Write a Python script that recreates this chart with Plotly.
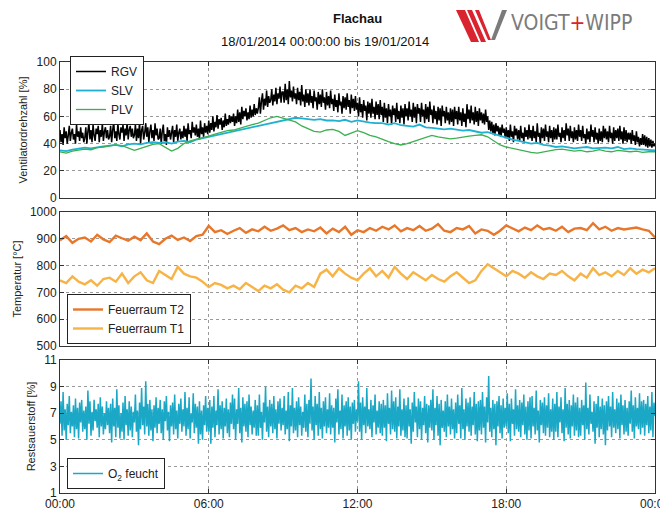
import pandas as pd
import plotly.graph_objects as go

# ---------------- data ----------------
day_start = "2014-01-18 00:00"
day_end = "2014-01-19 00:00"
x_tick_labels = ["00:00", "06:00", "12:00", "18:00", "00:00"]

# Ventilatordrehzahl RGV [%], 2.5-minute samples (one row per hour)
rgv = [
    50, 41, 47, 39, 52, 44, 49, 40, 46, 53, 42, 48, 51, 43, 47, 40, 54, 45, 49, 42, 52, 44, 48, 41,
    44, 52, 40, 49, 55, 43, 50, 41, 54, 46, 42, 51, 47, 53, 41, 50, 45, 55, 42, 49, 52, 44, 50, 43,
    45, 53, 41, 50, 56, 44, 49, 42, 55, 47, 43, 52, 48, 54, 42, 51, 46, 56, 43, 50, 53, 45, 51, 44,
    46, 54, 42, 51, 44, 56, 40, 50, 53, 43, 48, 55, 45, 52, 41, 49, 54, 44, 50, 42, 55, 46, 51, 43,
    44, 51, 40, 49, 54, 42, 47, 39, 52, 45, 50, 43, 48, 53, 41, 50, 45, 54, 42, 48, 51, 43, 49, 44,
    53, 45, 51, 42, 55, 47, 50, 44, 56, 48, 52, 46, 54, 45, 51, 43, 57, 47, 52, 45, 55, 48, 53, 47,
    57, 48, 55, 50, 60, 49, 56, 52, 61, 51, 58, 54, 59, 50, 57, 52, 62, 53, 58, 54, 61, 55, 60, 56,
    62, 53, 60, 55, 65, 56, 63, 54, 67, 58, 64, 60, 66, 57, 63, 58, 68, 59, 65, 60, 69, 61, 66, 62,
    66, 74, 62, 71, 77, 65, 73, 68, 79, 67, 75, 70, 72, 80, 68, 76, 71, 81, 69, 77, 73, 82, 70, 78,
    78, 70, 84, 72, 80, 69, 86, 74, 79, 71, 82, 73, 77, 69, 81, 72, 78, 68, 83, 71, 76, 67, 80, 70,
    77, 68, 80, 70, 75, 66, 79, 71, 74, 65, 78, 69, 76, 67, 80, 70, 74, 65, 78, 68, 75, 66, 79, 69,
    73, 64, 76, 67, 72, 63, 77, 68, 71, 62, 75, 66, 74, 65, 77, 67, 72, 62, 76, 66, 73, 64, 75, 65,
    70, 60, 74, 63, 69, 59, 72, 64, 68, 57, 71, 62, 70, 59, 73, 62, 67, 58, 71, 61, 69, 58, 72, 61,
    67, 56, 70, 59, 66, 55, 69, 60, 65, 54, 68, 61, 66, 56, 70, 58, 64, 55, 68, 59, 66, 54, 69, 60,
    66, 57, 71, 60, 65, 56, 70, 59, 67, 55, 69, 62, 66, 56, 70, 60, 65, 55, 69, 58, 67, 56, 71, 61,
    65, 55, 68, 58, 64, 54, 67, 57, 66, 53, 68, 60, 64, 55, 67, 57, 63, 54, 66, 56, 65, 53, 67, 58,
    64, 54, 67, 57, 63, 53, 66, 56, 62, 52, 69, 58, 65, 55, 68, 57, 63, 54, 67, 56, 64, 53, 66, 57,
    63, 55, 62, 54, 65, 56, 60, 50, 57, 49, 56, 47, 54, 46, 55, 49, 53, 46, 52, 45, 54, 48, 51, 44,
    52, 44, 50, 42, 54, 45, 49, 41, 53, 46, 51, 43, 50, 42, 53, 44, 48, 41, 52, 45, 50, 43, 54, 44,
    50, 42, 53, 44, 49, 41, 55, 45, 48, 40, 52, 44, 51, 42, 54, 45, 49, 41, 53, 44, 50, 41, 52, 43,
    51, 43, 54, 45, 48, 41, 52, 44, 50, 42, 55, 46, 51, 42, 53, 44, 49, 41, 52, 43, 50, 42, 54, 45,
    50, 42, 53, 44, 47, 40, 51, 43, 49, 41, 54, 45, 50, 41, 52, 43, 48, 40, 51, 42, 49, 41, 53, 44,
    51, 43, 49, 41, 53, 44, 48, 40, 52, 42, 50, 44, 51, 42, 53, 43, 49, 40, 52, 42, 50, 41, 48, 43,
    48, 40, 50, 42, 46, 39, 49, 41, 45, 38, 44, 39, 47, 39, 46, 38, 45, 37, 44, 38, 43, 37, 42, 38,
    40,
]

# SLV [%], 15-minute samples
slv = [
    35, 34.5, 35.5, 36, 37, 36.5, 37.5, 38, 38.5, 39, 38, 39.5,
    40, 39.5, 40.5, 41, 40.5, 41, 40, 41.5, 42, 41, 43, 44,
    45, 46, 47, 48, 49, 50, 51.5, 52, 53, 54, 55, 56,
    57, 58, 59, 58.5, 58, 57.5, 58, 57, 57, 56.5, 57.5, 56,
    57, 56, 55.5, 55, 55, 54, 55, 53.5, 53, 52.5, 54, 52,
    51.5, 51, 50.5, 51, 50, 49.5, 50, 49, 48, 48.5, 47, 45.5,
    44, 43, 42, 41, 40, 40.5, 39, 38.5, 37.5, 38, 37, 36.5,
    37, 37.5, 36.5, 37, 37, 36.5, 37.5, 36, 36.5, 36, 35.5, 35.5,
    35,
]

# PLV [%], 15-minute samples
plv = [
    34, 33, 34.5, 35, 36, 35.5, 37, 37.5, 38, 39, 38.5, 37,
    35, 36.5, 38, 39.5, 40, 37, 34.5, 36.5, 40, 42, 43, 44,
    45.5, 47, 48.5, 49.5, 50, 51.5, 53, 54, 55, 57, 59, 60,
    58.5, 57.5, 56, 53, 51, 49, 48.5, 50, 50.5, 49, 46, 47.5,
    49.5, 48, 46, 45, 43, 41.5, 40, 39, 40, 41.5, 43, 44.5,
    46, 45, 44, 43.5, 44, 45, 45.5, 46, 46.5, 45, 42, 39,
    37.5, 36.5, 35, 34.5, 33.5, 33, 34, 35, 35.5, 36, 35, 34.5,
    35, 34, 34.5, 35.5, 34.5, 34, 35, 34.5, 34, 34.5, 33.5, 34,
    34,
]

# Feuerraum T2 [°C], 15-minute samples
t2 = [
    895, 910, 885, 900, 905, 890, 915, 898, 888, 912, 902, 893,
    908, 895, 920, 890, 880, 900, 912, 896, 905, 892, 910, 915,
    948, 925, 932, 918, 930, 940, 922, 935, 928, 945, 930, 938,
    950, 932, 940, 925, 935, 928, 942, 920, 938, 925, 945, 915,
    932, 925, 940, 930, 945, 935, 950, 928, 940, 932, 948, 930,
    938, 955, 930, 925, 940, 935, 948, 920, 935, 930, 915, 930,
    950, 938, 928, 942, 932, 950, 935, 940, 930, 945, 925, 938,
    940, 932, 958, 935, 945, 930, 940, 935, 938, 942, 935, 930,
    905,
]

# Feuerraum T1 [°C], 15-minute samples
t1 = [
    745, 735, 760, 740, 730, 745, 725, 750, 755, 740, 770, 735,
    760, 775, 745, 735, 780, 765, 750, 795, 770, 760, 755, 740,
    720, 735, 728, 715, 725, 712, 735, 720, 705, 725, 715, 730,
    710, 700, 725, 715, 735, 720, 770, 785, 760, 790, 770, 755,
    745, 770, 790, 760, 780, 755, 795, 770, 750, 775, 760, 745,
    765, 750, 740, 760, 775, 755, 735, 745, 780, 805, 790, 775,
    760, 780, 770, 755, 775, 760, 750, 770, 765, 780, 760, 745,
    770, 755, 790, 765, 775, 760, 780, 765, 790, 770, 785, 775,
    790,
]

# Restsauerstoff O2 feucht [%], 2.5-minute samples (one row per hour)
o2 = [
    6.2, 7.9, 5.3, 8.6, 5.7, 7.3, 5.0, 7.7, 6.1, 8.3, 5.5, 7.1, 6.0, 7.6, 5.2, 8.1, 5.8, 7.4, 5.1, 7.8, 6.3, 8.0, 5.6, 7.2,
    5.8, 7.5, 5.0, 8.7, 6.2, 7.9, 5.3, 7.1, 5.7, 8.0, 6.4, 7.3, 5.9, 7.7, 5.2, 8.2, 6.0, 7.5, 5.4, 7.0, 5.8, 7.9, 6.1, 7.4,
    5.5, 7.7, 4.8, 8.1, 6.0, 7.4, 5.2, 8.8, 5.9, 7.6, 5.1, 7.0, 5.6, 7.8, 5.0, 8.3, 6.1, 7.3, 5.3, 7.9, 5.7, 7.5, 5.2, 7.1,
    6.3, 8.4, 5.6, 7.2, 4.6, 7.8, 5.8, 8.9, 6.1, 7.5, 5.4, 9.4, 6.0, 7.7, 5.3, 8.0, 5.7, 7.3, 4.9, 7.6, 5.9, 8.2, 5.5, 7.4,
    6.2, 8.0, 5.5, 7.3, 5.0, 7.9, 6.4, 8.3, 5.7, 7.1, 4.9, 7.6, 6.0, 7.8, 5.4, 8.4, 5.8, 7.2, 5.1, 7.7, 6.2, 8.1, 5.6, 7.3,
    6.0, 8.6, 5.3, 7.4, 5.8, 8.2, 5.1, 7.0, 6.3, 8.5, 5.5, 7.7, 5.9, 7.5, 4.7, 7.9, 5.4, 7.2, 5.0, 7.6, 6.1, 8.3, 5.6, 7.4,
    5.6, 8.0, 4.7, 7.5, 5.9, 8.3, 5.2, 7.2, 6.1, 8.8, 5.4, 7.6, 5.8, 7.9, 5.1, 7.4, 6.0, 8.1, 5.5, 7.3, 5.2, 7.8, 6.2, 8.4,
    5.8, 8.1, 5.0, 7.3, 6.2, 8.9, 5.5, 7.4, 4.8, 8.2, 6.0, 7.7, 5.6, 7.9, 5.2, 8.4, 6.1, 7.5, 5.4, 7.2, 5.9, 8.0, 5.3, 7.6,
    5.3, 8.4, 5.9, 7.1, 5.0, 7.8, 6.3, 9.0, 5.6, 7.5, 5.2, 8.0, 6.0, 7.7, 5.5, 8.3, 5.8, 7.3, 5.1, 7.9, 6.2, 8.1, 5.7, 7.4,
    6.1, 8.3, 5.4, 7.2, 5.8, 8.6, 4.9, 7.6, 6.0, 8.9, 5.5, 7.4, 5.7, 7.9, 5.2, 8.2, 6.1, 7.5, 5.3, 7.1, 5.9, 8.4, 5.6, 7.7,
    5.2, 8.0, 6.2, 9.6, 5.7, 7.5, 5.0, 8.3, 6.1, 7.7, 5.3, 8.6, 5.8, 7.4, 5.1, 7.9, 6.0, 8.2, 5.5, 7.3, 5.9, 8.5, 5.4, 7.6,
    5.9, 7.4, 4.8, 8.1, 6.3, 8.8, 5.4, 7.2, 5.8, 8.4, 5.1, 7.6, 6.0, 7.9, 5.3, 8.2, 5.7, 7.5, 5.0, 7.8, 6.2, 8.0, 5.6, 7.3,
    6.4, 9.4, 5.6, 7.8, 5.0, 8.2, 6.1, 7.5, 5.5, 8.9, 6.0, 7.3, 5.8, 8.0, 5.2, 7.6, 6.3, 8.4, 5.4, 7.2, 5.9, 7.9, 5.5, 7.7,
    5.3, 8.0, 5.9, 7.6, 4.9, 8.5, 6.2, 7.4, 5.4, 8.7, 5.8, 7.9, 5.6, 8.2, 5.1, 7.5, 6.0, 8.8, 5.3, 7.3, 5.7, 8.1, 5.2, 7.6,
    5.1, 8.2, 6.0, 7.3, 4.7, 7.8, 5.6, 8.6, 6.3, 7.5, 5.2, 8.1, 5.8, 7.9, 5.0, 7.4, 6.1, 8.3, 5.5, 7.7, 4.8, 7.6, 5.9, 8.0,
    5.7, 8.8, 5.0, 7.4, 6.1, 8.3, 5.3, 7.7, 4.6, 8.0, 5.9, 7.2, 5.6, 7.9, 5.2, 8.4, 6.0, 7.5, 5.4, 8.1, 5.8, 7.3, 5.1, 7.8,
    5.5, 8.4, 6.2, 7.6, 5.1, 8.9, 5.8, 7.3, 5.0, 8.1, 6.0, 7.8, 5.6, 8.2, 5.3, 7.5, 6.1, 8.6, 5.4, 7.7, 4.9, 7.9, 5.7, 8.0,
    5.4, 8.6, 5.9, 7.5, 4.8, 8.2, 6.3, 9.8, 5.6, 7.4, 5.2, 8.0, 5.8, 7.7, 4.6, 7.9, 6.0, 8.3, 5.5, 7.6, 5.1, 8.1, 5.9, 7.4,
    6.0, 8.5, 5.5, 7.7, 4.9, 8.1, 6.2, 7.3, 5.3, 8.8, 5.8, 7.6, 5.6, 8.0, 5.2, 7.8, 6.1, 8.4, 5.4, 7.5, 5.0, 7.9, 5.7, 8.2,
    5.1, 8.3, 6.0, 7.4, 5.4, 8.7, 5.7, 7.2, 4.8, 8.0, 6.1, 7.8, 5.5, 8.2, 5.3, 7.6, 5.9, 8.5, 5.2, 7.3, 5.6, 8.1, 5.0, 7.7,
    5.6, 8.6, 5.2, 7.5, 6.3, 8.2, 5.5, 7.3, 4.9, 8.9, 5.9, 7.7, 5.4, 8.0, 5.1, 7.6, 6.0, 8.4, 5.3, 7.8, 5.7, 8.2, 5.2, 7.4,
    5.3, 8.0, 6.1, 7.6, 5.0, 9.3, 5.8, 7.4, 5.4, 8.4, 6.2, 7.1, 5.6, 7.9, 4.7, 7.7, 5.9, 8.3, 5.2, 7.5, 5.8, 8.1, 5.4, 7.6,
    4.6, 7.9, 5.7, 8.3, 6.0, 7.5, 5.2, 8.6, 5.9, 7.3, 5.5, 8.1, 5.8, 7.8, 5.1, 8.4, 6.1, 7.6, 5.4, 8.0, 5.6, 7.4, 5.3, 7.9,
    6.2, 8.7, 5.6, 7.6, 5.1, 8.2, 6.0, 7.4, 5.8, 8.5, 5.4, 7.9, 5.9, 8.0, 5.3, 7.7, 6.1, 8.3, 5.5, 7.5, 5.7, 8.6, 5.2, 7.8,
    6.8,
]

# ---------------- time axes ----------------
t_rgv = pd.date_range(day_start, day_end, periods=len(rgv))
t_o2 = pd.date_range(day_start, day_end, periods=len(o2))
t15 = pd.date_range(day_start, day_end, periods=len(slv))

FONT = "Liberation Sans, Arial, sans-serif"
C_RGV, C_SLV, C_PLV = "#000000", "#1fb0d2", "#3bb04f"
C_T2, C_T1, C_O2 = "#e8772a", "#f7b345", "#1aa8c6"

fig = go.Figure()
fig.add_trace(go.Scatter(x=t_rgv, y=rgv, name="RGV", mode="lines",
                         line=dict(color=C_RGV, width=1.5, simplify=False),
                         xaxis="x", yaxis="y", legend="legend"))
fig.add_trace(go.Scatter(x=t15, y=slv, name="SLV", mode="lines",
                         line=dict(color=C_SLV, width=1.8), xaxis="x", yaxis="y", legend="legend"))
fig.add_trace(go.Scatter(x=t15, y=plv, name="PLV", mode="lines",
                         line=dict(color=C_PLV, width=1.3), xaxis="x", yaxis="y", legend="legend"))
fig.add_trace(go.Scatter(x=t15, y=t2, name="Feuerraum T2", mode="lines",
                         line=dict(color=C_T2, width=2.4), xaxis="x2", yaxis="y2", legend="legend2"))
fig.add_trace(go.Scatter(x=t15, y=t1, name="Feuerraum T1", mode="lines",
                         line=dict(color=C_T1, width=2.4), xaxis="x2", yaxis="y2", legend="legend2"))
fig.add_trace(go.Scatter(x=t_o2, y=o2, name="O<sub>2</sub> feucht", mode="lines",
                         line=dict(color=C_O2, width=1.5, simplify=False),
                         xaxis="x3", yaxis="y3", legend="legend3"))

# plot area in pixels: x 60..655, y 62..493
def px(xp):
    return (xp - 60) / 595.0

def py(yp):
    return (493 - yp) / 431.0

ax_common = dict(showline=True, linecolor="#333333", linewidth=1, mirror="allticks",
                 ticks="inside", ticklen=4, tickcolor="#333333", showgrid=True,
                 gridcolor="#9a9a9a", griddash="dot", gridwidth=1, zeroline=False,
                 automargin=False,
                 tickfont=dict(family=FONT, size=12, color="#222222"))

xcommon = dict(ax_common, type="date", range=[day_start, day_end],
               tickvals=pd.date_range(day_start, day_end, freq="6h"), ticktext=x_tick_labels)

fig.update_layout(
    width=660, height=514,
    margin=dict(l=60, r=5, t=62, b=21, autoexpand=False),
    paper_bgcolor="white", plot_bgcolor="white",
    font=dict(family=FONT, size=12, color="#222222"),
    xaxis=dict(xcommon, domain=[0, 1], anchor="y", showticklabels=False, matches="x3"),
    xaxis2=dict(xcommon, domain=[0, 1], anchor="y2", showticklabels=False, matches="x3"),
    xaxis3=dict(xcommon, domain=[0, 1], anchor="y3", showticklabels=True, ticklabeloverflow="allow"),
    yaxis=dict(ax_common, domain=[py(198), 1.0], range=[0, 100], dtick=20,
               title=dict(text="Ventilatordrehzahl [%]", font=dict(size=11), standoff=6)),
    yaxis2=dict(ax_common, domain=[py(346), py(212)], range=[500, 1000], dtick=100,
                title=dict(text="Temperatur [°C]", font=dict(size=11), standoff=6)),
    yaxis3=dict(ax_common, domain=[0, py(360)], range=[1, 11], tickvals=[1, 3, 5, 7, 9, 11],
                title=dict(text="Restsauerstoff [%]", font=dict(size=11), standoff=6)),
    legend=dict(x=px(70), y=py(56), xanchor="left", yanchor="top", bgcolor="white",
                bordercolor="#222222", borderwidth=1, font=dict(size=12), tracegroupgap=0),
    legend2=dict(x=px(67), y=py(294), xanchor="left", yanchor="top", bgcolor="white",
                 bordercolor="#222222", borderwidth=1, font=dict(size=12), tracegroupgap=0),
    legend3=dict(x=px(67), y=py(458), xanchor="left", yanchor="top", bgcolor="white",
                 bordercolor="#222222", borderwidth=1, font=dict(size=12), tracegroupgap=0),
    showlegend=True,
)

# titles
fig.add_annotation(text="<b>Flachau</b>", x=px(357), y=py(18), xref="paper", yref="paper",
                   showarrow=False, font=dict(family=FONT, size=13, color="#111111"),
                   xanchor="center", yanchor="middle")
fig.add_annotation(text="18/01/2014 00:00:00 bis 19/01/2014", x=px(325), y=py(42),
                   xref="paper", yref="paper", showarrow=False,
                   font=dict(family=FONT, size=13, color="#111111"),
                   xanchor="center", yanchor="middle")

# logo
RED, GRAY = "#d9232e", "#7b7b7b"
fig.add_annotation(text="VOIGT<span style='color:%s'>+</span>WIPP" % RED, x=px(509), y=py(23),
                   xref="paper", yref="paper", showarrow=False, xanchor="left", yanchor="middle",
                   font=dict(family="Liberation Sans Narrow, DejaVu Sans Condensed, Arial Narrow, sans-serif",
                             size=21, color=GRAY))

def poly(pts, color):
    d = "M " + " L ".join("%f,%f" % (px(a), py(b)) for a, b in pts) + " Z"
    fig.add_shape(type="path", path=d, xref="paper", yref="paper",
                  fillcolor=color, line=dict(width=0))

poly([(456, 10), (465, 10), (479, 42), (471, 42)], RED)
poly([(467, 10), (472, 10), (486, 42), (481, 42)], RED)
poly([(475, 10), (479, 10), (491, 40), (488, 40)], RED)
poly([(491, 40), (495, 40), (507, 10), (502, 10)], GRAY)

fig.write_html("out.html", config={"displayModeBar": False},
               post_script="document.body.style.margin='0';document.body.style.overflow='hidden';")
